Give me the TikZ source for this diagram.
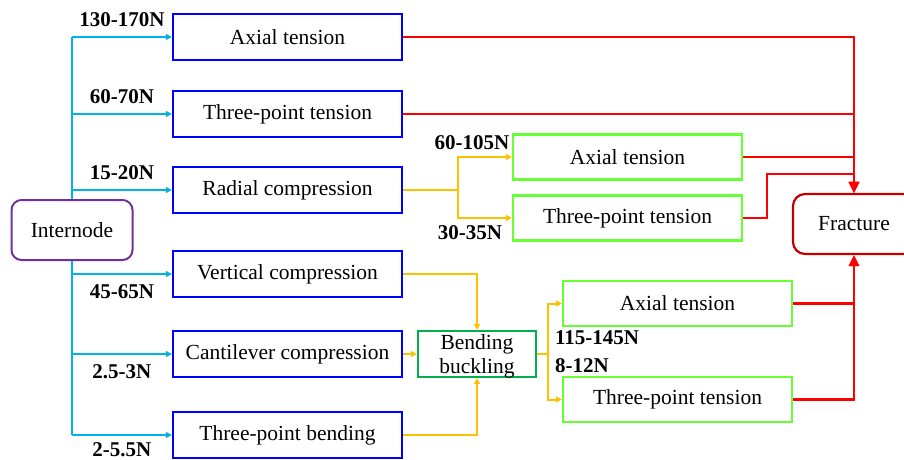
\documentclass[tikz,border=0pt]{standalone}
\usepackage{fontspec}
\setmainfont{Liberation Serif}
\usetikzlibrary{arrows.meta}
\definecolor{boxblue}{HTML}{0000FF}
\definecolor{linkcyan}{HTML}{00B0F0}
\definecolor{linkorange}{HTML}{FFC000}
\definecolor{lightgreen}{HTML}{66FF33}
\definecolor{darkgreen}{HTML}{00B050}
\definecolor{intpurple}{HTML}{7030A0}
\definecolor{darkred}{HTML}{C00000}
\definecolor{linkred}{HTML}{FF0000}

\begin{document}
\begin{tikzpicture}[x=1pt,y=-1pt,
  every node/.style={font=\fontsize{21.5}{24}\selectfont},
  testbox/.style={draw=boxblue,line width=2.4pt,minimum width=229pt,minimum height=46pt,inner sep=0pt},
  subbox/.style={draw=lightgreen,line width=2.2pt,minimum width=229pt,minimum height=45pt,inner sep=0pt},
  lbl/.style={font=\bfseries\fontsize{21}{24}\selectfont,inner sep=9pt},
  cyanline/.style={draw=linkcyan,line width=2.2pt},
  cyanarrow/.style={cyanline,-{Triangle[length=6pt,width=6pt]}},
  orangeline/.style={draw=linkorange,line width=2pt},
  orangearrow/.style={orangeline,-{Triangle[length=6pt,width=6pt]}},
  redarrow/.style={draw=linkred,line width=2.2pt,-{Triangle[length=11pt,width=10pt]}}]
\useasboundingbox (0,0) rectangle (904,460);
% \draw[help lines] (0,0) grid (904,460);
\node (int) [rounded corners=10pt,draw=intpurple,line width=2pt,minimum width=121pt,minimum height=60pt] at (72,230) {Internode};
%
\node (ax) [testbox] at (287.5,37) {Axial tension};
\node (tp) [testbox] at (287.5,114) {Three-point tension};
\node (rc) [testbox] at (287.5,190) {Radial compression};
\node (vc) [testbox] at (287.5,274) {Vertical compression};
\node (cc) [testbox] at (287.5,354) {Cantilever compression};
\node (tb) [testbox] at (287.5,435) {Three-point bending};
%
\node (rax) [subbox] at (627.5,157) {Axial tension};
\node (rtp) [subbox] at (627.5,218) {Three-point tension};
\node (bb) [draw=darkgreen,line width=2.2pt,minimum width=118pt,minimum height=46pt,inner sep=0pt,align=center,text depth=0pt] at (477,354) {Bending\\buckling};
\node (bax) [subbox] at (677.5,303.5) {Axial tension};
\node (btp) [subbox] at (677.5,399.5) {Three-point tension};
\node (fr) [rounded corners=12pt,draw=darkred,line width=2.2pt,minimum width=122pt,minimum height=60pt] at (854,224) {Fracture};
%
\coordinate (s1) at (72,37);
\coordinate (s2) at (72,114);
\coordinate (s3) at (72,190);
\coordinate (s4) at (72,274);
\coordinate (s5) at (72,354);
\coordinate (s6) at (72,435);
\draw[cyanline] (s1) -- (int.north);
\draw[cyanline] (int.south) -- (s6);
\draw[cyanarrow] (s1) -- node[lbl,above] {130-170N} (ax.west);
\draw[cyanarrow] (s2) -- node[lbl,above] {60-70N} (tp.west);
\draw[cyanarrow] (s3) -- node[lbl,above] {15-20N} (rc.west);
\draw[cyanarrow] (s4) -- node[lbl,below] {45-65N} (vc.west);
\draw[cyanarrow] (s5) -- node[lbl,below] {2.5-3N} (cc.west);
\draw[cyanarrow] (s6) -- node[lbl,below,inner sep=6pt] {2-5.5N} (tb.west);
%
\coordinate (rsplit) at (458,190);
\draw[orangeline] (rc.east) -- (rsplit);
\draw[orangearrow] (rsplit) |- (rax.west);
\draw[orangearrow] (rsplit) |- (rtp.west);
\node (l7) [lbl] at (472,143) {60-105N};
\node (l8) [lbl] at (470,233) {30-35N};
%
\draw[orangearrow] (vc.east) -| (bb.north);
\draw[orangearrow] (cc.east) -- (cc.east -| bb.west);
\draw[orangearrow] (tb.east) -| (bb.south);
\coordinate (bsplit) at (548,354);
\draw[orangeline] (bsplit -| bb.east) -- (bsplit);
\draw[orangearrow] (bsplit) |- (bax.west);
\draw[orangearrow] (bsplit) |- (btp.west);
\node (l9) [lbl] at (597,338) {115-145N};
\node (l10) [lbl] at (582,366) {8-12N};
%
\coordinate (kink) at (767,174);
\draw[redarrow] (ax.east) -| (fr.north);
\draw[redarrow] (tp.east) -| (fr.north);
\draw[redarrow] (rax.east) -| (fr.north);
\draw[redarrow] (rtp.east) -| (kink) -- (kink -| fr.north) -- (fr.north);
\draw[redarrow] (bax.east) -| (fr.south);
\draw[redarrow] (btp.east) -| (fr.south);
\end{tikzpicture}
\end{document}
